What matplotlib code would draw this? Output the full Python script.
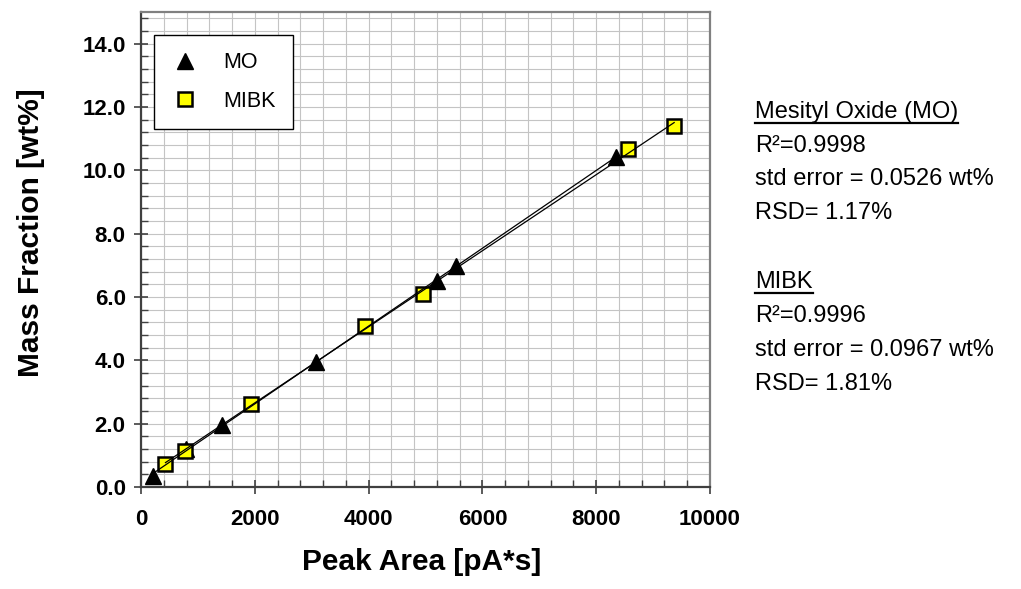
import numpy as np
import matplotlib
matplotlib.use("Agg")
import matplotlib.pyplot as plt
from matplotlib.ticker import MultipleLocator, FormatStrFormatter
from matplotlib.lines import Line2D

plt.rcParams['font.family'] = ['Liberation Sans', 'DejaVu Sans']

# ---- data ----
mo_area = [216, 790, 1430, 3070, 5200, 5540, 8340]
mo_frac = [0.36, 1.20, 1.95, 3.95, 6.52, 6.98, 10.42]
mibk_area = [430, 770, 1930, 3940, 4950, 8560, 9370]
mibk_frac = [0.74, 1.15, 2.61, 5.10, 6.09, 10.66, 11.40]
series_labels = ["MO", "MIBK"]
x_label = "Peak Area [pA*s]"
y_label = "Mass Fraction [wt%]"
stats_mo = ["Mesityl Oxide (MO)", "R²=0.9998", "std error = 0.0526 wt%", "RSD= 1.17%"]
stats_mibk = ["MIBK", "R²=0.9996", "std error = 0.0967 wt%", "RSD= 1.81%"]

W, H = 1021, 589
fig = plt.figure(figsize=(W / 100, H / 100), dpi=100)
ax = fig.add_axes([141 / W, 1 - 487 / H, (710 - 141) / W, (487 - 12) / H])

ax.set_xlim(0, 10000)
ax.set_ylim(0, 15)
ax.xaxis.set_major_locator(MultipleLocator(2000))
ax.xaxis.set_minor_locator(MultipleLocator(400))
ax.yaxis.set_major_locator(MultipleLocator(2))
ax.yaxis.set_minor_locator(MultipleLocator(0.4))
ax.yaxis.set_major_formatter(FormatStrFormatter('%.1f'))
ax.set_yticks(np.arange(0, 14.1, 2))

ax.grid(True, which='both', color='#c4c4c4', lw=0.8)
ax.set_axisbelow(True)

for s in ['top', 'right']:
    ax.spines[s].set_color('#808080')
    ax.spines[s].set_linewidth(1.6)
for s in ['left', 'bottom']:
    ax.spines[s].set_color('#404040')
    ax.spines[s].set_linewidth(1.6)

ax.tick_params(which='major', direction='inout', length=10, width=1.2, color='#404040')
ax.tick_params(which='minor', direction='in', length=5, width=1.0, color='#404040')
ax.tick_params(axis='x', which='major', pad=11)
ax.tick_params(axis='y', which='major', pad=6)
for lab in ax.get_xticklabels() + ax.get_yticklabels():
    lab.set_fontsize(16)
    lab.set_fontweight('bold')

# markers
ax.plot(mo_area, mo_frac, ls='none', marker='^', ms=12, mfc='black', mec='black',
        mew=1, label=series_labels[0], zorder=3)
ax.plot(mibk_area, mibk_frac, ls='none', marker='s', ms=9.5, mfc='#ffff00', mec='black',
        mew=1.8, label=series_labels[1], zorder=3)

# linear trend lines
for xs, ys in [(mo_area, mo_frac), (mibk_area, mibk_frac)]:
    xs = np.asarray(xs, float)
    k, b = np.polyfit(xs, np.asarray(ys, float), 1)
    xx = np.array([xs.min(), xs.max()])
    ax.plot(xx, k * xx + b, color='black', lw=0.9, zorder=4)

leg = ax.legend(loc='upper left', bbox_to_anchor=((154 - 141) / 569, (487 - 35) / 475),
                borderaxespad=0, fontsize=15.5, frameon=True, fancybox=False,
                edgecolor='black', framealpha=1, borderpad=0.8, labelspacing=0.81,
                handlelength=1.28, handletextpad=1.13, numpoints=1)
leg.get_frame().set_linewidth(1.0)

ax.set_xlabel(x_label, fontsize=21.5, fontweight='bold')
ax.xaxis.set_label_coords((421.5 - 141) / 569, (487 - 548) / 475)
ax.xaxis.label.set_va('top')
ax.set_ylabel(y_label, fontsize=21.5, fontweight='bold')
ax.yaxis.set_label_coords((45 - 141) / 569, (487 - 233) / 475)

# stats text
tx = 755 / W
baselines = [118, 151.5, 185, 219, 288, 322, 356, 390]
texts = []
for i, line in enumerate(stats_mo + stats_mibk):
    t = fig.text(tx, 1 - baselines[i] / H, line, fontsize=17, va='baseline', ha='left')
    texts.append(t)

fig.canvas.draw()
r = fig.canvas.get_renderer()
for t in (texts[0], texts[4]):
    bb = t.get_window_extent(r)
    x0, y0 = t.get_position()
    yy = y0 - 4.5 / H
    fig.add_artist(Line2D([bb.x0 / W, bb.x1 / W], [yy, yy], color='black', lw=1.6,
                          transform=fig.transFigure))

fig.savefig('out.png', dpi=100)
